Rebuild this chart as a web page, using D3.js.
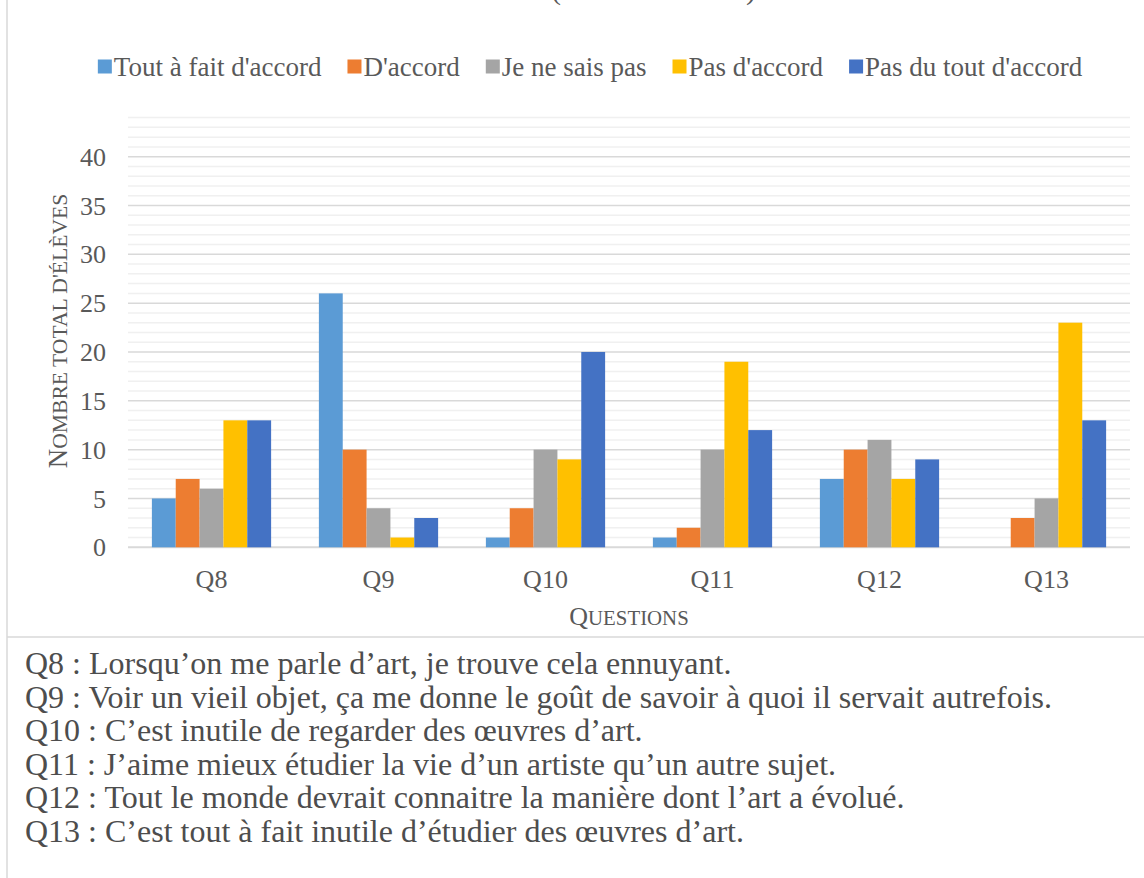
<!DOCTYPE html>
<html><head><meta charset="utf-8">
<script src="https://cdn.jsdelivr.net/npm/d3@7/dist/d3.min.js"></script>
<style>
html,body{margin:0;padding:0;background:#fff;}
svg{display:block;}
svg text{font-family:"Liberation Serif",serif;}
</style></head>
<body>
<svg id="chart" width="1144" height="878"></svg>
<script>
const questions = ["Q8","Q9","Q10","Q11","Q12","Q13"];
const seriesNames = ["Tout à fait d'accord","D'accord","Je ne sais pas","Pas d'accord","Pas du tout d'accord"];
const seriesColors = ["#5B9BD5","#ED7D31","#A5A5A5","#FFC000","#4472C4"];
const toutAFait   = [5, 26, 1, 1, 7, 0];
const dAccord     = [7, 10, 4, 2, 10, 3];
const neSaisPas   = [6, 4, 10, 10, 11, 5];
const pasDAccord  = [13, 1, 9, 19, 7, 23];
const pasDuTout   = [13, 3, 20, 12, 9, 13];
const yTicks = [0,5,10,15,20,25,30,35,40];
const yMax = 44;
const yTitle = "Nombre total d'élèves";
const xTitle = "Questions";
const notes = [
 "Q8 : Lorsqu’on me parle d’art, je trouve cela ennuyant.",
 "Q9 : Voir un vieil objet, ça me donne le goût de savoir à quoi il servait autrefois.",
 "Q10 : C’est inutile de regarder des œuvres d’art.",
 "Q11 : J’aime mieux étudier la vie d’un artiste qu’un autre sujet.",
 "Q12 : Tout le monde devrait connaitre la manière dont l’art a évolué.",
 "Q13 : C’est tout à fait inutile d’étudier des œuvres d’art."
];
const seriesValues = [toutAFait, dAccord, neSaisPas, pasDAccord, pasDuTout];

const FONT = "Liberation Serif";
const svg = d3.select("#chart");
const textColor = "#595959";

// frame lines
svg.append("line").attr("x1",7).attr("x2",7).attr("y1",0).attr("y2",878)
  .attr("stroke","#d9d9d9").attr("stroke-width",1.5);
svg.append("line").attr("x1",7).attr("x2",1144).attr("y1",637).attr("y2",637)
  .attr("stroke","#d9d9d9").attr("stroke-width",1.5);

// cut-off title parentheses (the title lies above the visible area)
svg.append("text").attr("x",551).attr("y",-1).attr("font-family",FONT).attr("font-size",30).attr("fill",textColor).text("(");
svg.append("text").attr("x",746).attr("y",-1).attr("font-family",FONT).attr("font-size",30).attr("fill",textColor).text(")");

const x0 = d3.scaleBand().domain(questions).range([128,1130]).paddingInner(0.286).paddingOuter(0.143);
const x1 = d3.scaleBand().domain(seriesNames).range([0,x0.bandwidth()]).padding(0);
const y = d3.scaleLinear().domain([0,yMax]).range([547.3,117.6]);

// minor gridlines
const minor = d3.range(1,yMax+1).filter(v=>v%5!==0);
svg.append("g").selectAll("line").data(minor).join("line")
  .attr("x1",128).attr("x2",1130).attr("y1",d=>y(d)).attr("y2",d=>y(d))
  .attr("stroke","#f0f0f0").attr("stroke-width",1.5);
// major gridlines
svg.append("g").selectAll("line").data(yTicks).join("line")
  .attr("x1",128).attr("x2",1130).attr("y1",d=>y(d)).attr("y2",d=>y(d))
  .attr("stroke","#d9d9d9").attr("stroke-width",d=>d===0?2:1.5);

// y axis labels
const yAxis = d3.axisLeft(y).tickValues(yTicks).tickSize(0).tickPadding(0);
const ya = svg.append("g").attr("transform","translate(106,0)").call(yAxis)
  .attr("font-family",FONT);
ya.select(".domain").remove();
ya.selectAll("text").attr("font-size",26).attr("fill",textColor)
  .attr("font-family",FONT).attr("dy","0.33em");

// bars
const groups = svg.append("g").selectAll("g").data(questions).join("g")
  .attr("transform",q=>`translate(${x0(q)},0)`);
groups.selectAll("rect").data((q,qi)=>seriesNames.map((s,si)=>({s,si,v:seriesValues[si][qi]})))
  .join("rect")
  .attr("x",d=>x1(d.s)).attr("width",x1.bandwidth())
  .attr("y",d=>y(d.v)).attr("height",d=>y(0)-y(d.v))
  .attr("fill",d=>seriesColors[d.si]);

// x axis labels
const xAxis = d3.axisBottom(x0).tickSize(0).tickPadding(0);
const xa = svg.append("g").attr("transform","translate(0,588)").call(xAxis)
  .attr("font-family",FONT);
xa.select(".domain").remove();
xa.selectAll("text").attr("font-size",26).attr("fill",textColor)
  .attr("font-family",FONT).attr("dy",0).attr("y",0);

// small caps helper
function smallCaps(sel, str, size){
  sel.text(null);
  for (const ch of str){
    const isUp = ch !== ch.toLowerCase();
    sel.append("tspan").attr("font-size", isUp ? size : size*0.8).text(ch.toUpperCase());
  }
}
const xt = svg.append("text").attr("x",629).attr("y",625).attr("text-anchor","middle")
  .attr("font-family",FONT).attr("fill",textColor);
smallCaps(xt, xTitle, 26);
const yt = svg.append("text").attr("transform","translate(67,331) rotate(-90)").attr("text-anchor","middle")
  .attr("font-family",FONT).attr("fill",textColor);
smallCaps(yt, yTitle, 27);

// legend
const legend = svg.append("g");
let lx = 0;
seriesNames.forEach((s,i)=>{
  const g = legend.append("g").attr("transform",`translate(${lx},0)`);
  g.append("rect").attr("x",0).attr("y",59.5).attr("width",14).attr("height",14).attr("fill",seriesColors[i]);
  const t = g.append("text").attr("x",16).attr("y",75.5).attr("font-family",FONT)
    .attr("font-size",27).attr("fill",textColor).text(s);
  lx += 16 + t.node().getComputedTextLength() + 26;
});
const legW = lx - 26;
legend.attr("transform",`translate(${590 - legW/2},0)`);

// notes
svg.append("g").selectAll("text").data(notes).join("text")
  .attr("x",25).attr("y",(d,i)=>674 + i*33.6).attr("font-family",FONT)
  .attr("font-size",32).attr("fill","#4d4d4d").text(d=>d);
</script>
</body></html>
